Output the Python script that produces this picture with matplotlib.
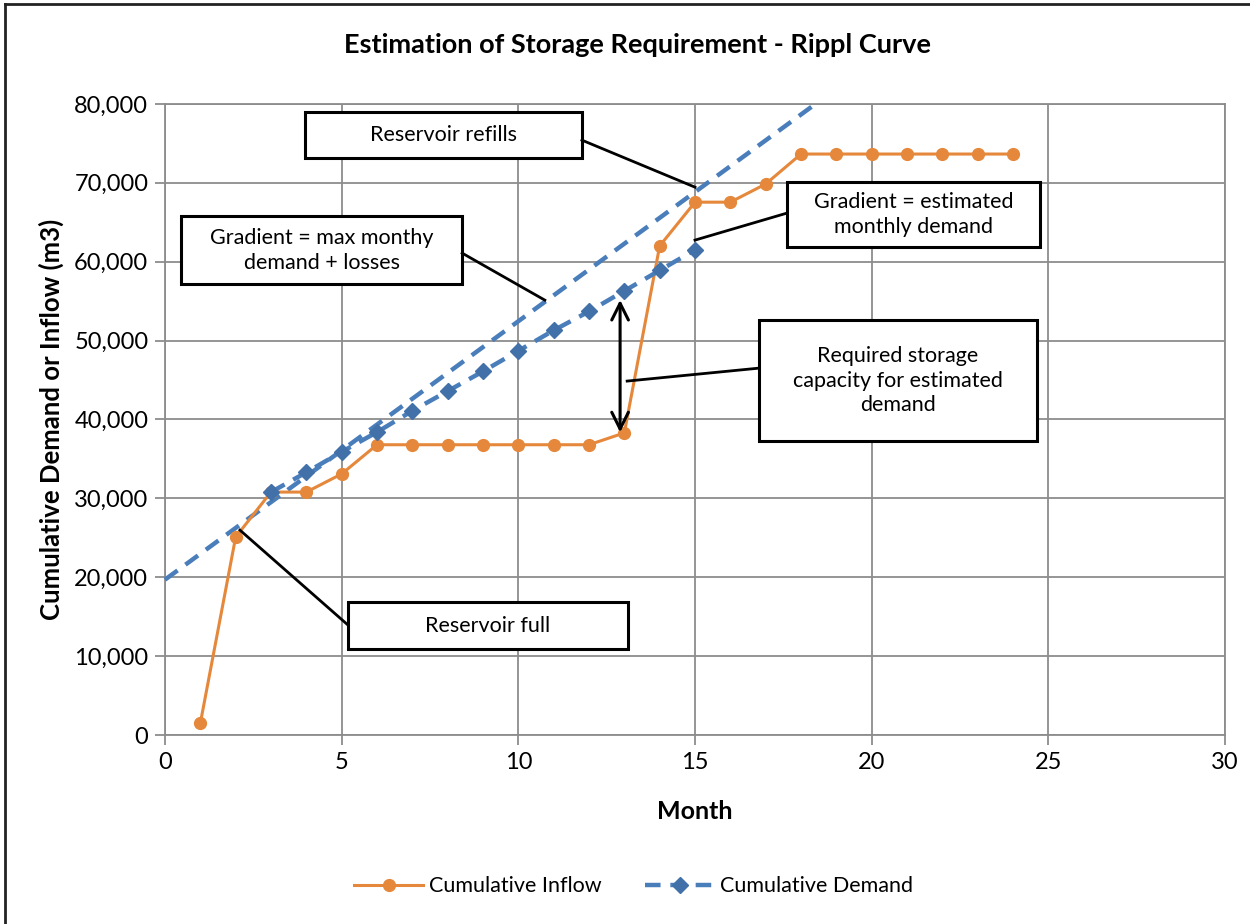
import matplotlib.pyplot as plt
from matplotlib.patches import Rectangle
from matplotlib.lines import Line2D
from matplotlib.ticker import FuncFormatter

plt.rcParams['font.family'] = ['Lato', 'DejaVu Sans']

# cumulative inflow, months 1-24 (m3)
inflow_months = list(range(1, 25))
inflow_values = [1500, 25100, 30800, 30800, 33100, 36800, 36800, 36800,
                 36800, 36800, 36800, 36800, 38300, 62000, 67550, 67550,
                 69850, 73650, 73650, 73650, 73650, 73650, 73650, 73650]

# cumulative estimated demand, months 3-15
demand_months = list(range(3, 16))
demand_values = [30800, 33300, 35900, 38400, 41100, 43600, 46100, 48700,
                 51300, 53700, 56300, 58900, 61500]

# max monthly demand + losses gradient line
gradient_months = [0, 18.5]
gradient_values = [19700, 80300]

x_ticks = [0, 5, 10, 15, 20, 25, 30]
y_ticks = [0, 10000, 20000, 30000, 40000, 50000, 60000, 70000, 80000]

orange = '#E5883B'
blue = '#4A7EBB'
blue_mk = '#4270A8'
grid_c = '#8C8C8C'

fig = plt.figure(figsize=(12.5, 9.24), dpi=100)
ax = fig.add_axes([0.132, 0.2045, 0.848, 0.683])

ax.plot(gradient_months, gradient_values, color=blue, lw=3.2,
        dashes=(3.5, 2.2), clip_on=False, zorder=3)
ax.plot(inflow_months, inflow_values, color=orange, lw=2.2, marker='o',
        ms=8.5, label='Cumulative Inflow', zorder=4)
ax.plot(demand_months, demand_values, color=blue, lw=3.2, dashes=(3.5, 2.2),
        marker='D', ms=8, mfc=blue_mk, mec=blue_mk,
        label='Cumulative Demand', zorder=5)

ax.set_xlim(0, 30)
ax.set_ylim(0, 80000)
ax.set_xticks(x_ticks)
ax.set_yticks(y_ticks)
ax.yaxis.set_major_formatter(FuncFormatter(lambda v, p: f'{int(v):,}'))
ax.grid(True, color=grid_c, lw=1.3)
ax.set_axisbelow(True)
for s in ax.spines.values():
    s.set_color(grid_c)
    s.set_linewidth(1.3)
ax.tick_params(length=7, width=1.3, color=grid_c, labelsize=17, pad=5)

ax.set_xlabel('Month', fontsize=18, fontweight='bold', labelpad=20)
ax.set_ylabel('Cumulative Demand or Inflow (m3)', fontsize=18.5,
              fontweight='bold', labelpad=7)
fig.text(0.51, 0.951, 'Estimation of Storage Requirement - Rippl Curve',
         ha='center', va='center', fontsize=19.5, fontweight='bold')

# annotation boxes: (x0, x1, y0, y1, text), leader line ends
boxes = [
    (3.96, 11.80, 73130, 78960, 'Reservoir refills',
     (11.80, 75410), (15.0, 69450)),
    (0.45, 8.41, 57160, 65780, 'Gradient = max monthy\ndemand + losses',
     (8.41, 61090), (10.75, 55130)),
    (17.60, 24.76, 61850, 70090, 'Gradient = estimated\nmonthly demand',
     (17.60, 66160), (15.0, 62740)),
    (16.81, 24.68, 37260, 52600,
     'Required storage\ncapacity for estimated\ndemand',
     (16.81, 46510), (13.08, 44870)),
    (5.18, 13.10, 10900, 16860, 'Reservoir full',
     (5.18, 13940), (2.12, 25980)),
]
for x0, x1, y0, y1, txt, p0, p1 in boxes:
    ax.add_patch(Rectangle((x0, y0), x1 - x0, y1 - y0, facecolor='white',
                           edgecolor='black', lw=2.2, zorder=6))
    ax.text((x0 + x1) / 2, (y0 + y1) / 2, txt, ha='center', va='center',
            fontsize=15.5, linespacing=1.3, zorder=7)
    ax.plot([p0[0], p1[0]], [p0[1], p1[1]], color='black', lw=2, zorder=6)

# storage requirement arrow
ax.annotate('', xy=(12.88, 38020), xytext=(12.88, 55510),
            arrowprops=dict(arrowstyle='<->', color='black', lw=2.2,
                            mutation_scale=30), zorder=6)

leg = fig.legend(loc='center', bbox_to_anchor=(0.507, 0.041), ncol=2,
                 frameon=False, fontsize=15.5, handlelength=3.2,
                 columnspacing=2.0, handletextpad=0.3)

# chart border
fig.add_artist(Line2D([0.004, 0.004], [0, 0.996], color='#222222', lw=2))
fig.add_artist(Line2D([0.004, 1], [0.996, 0.996], color='#222222', lw=2))

fig.savefig('out.png', dpi=100, facecolor='white')
